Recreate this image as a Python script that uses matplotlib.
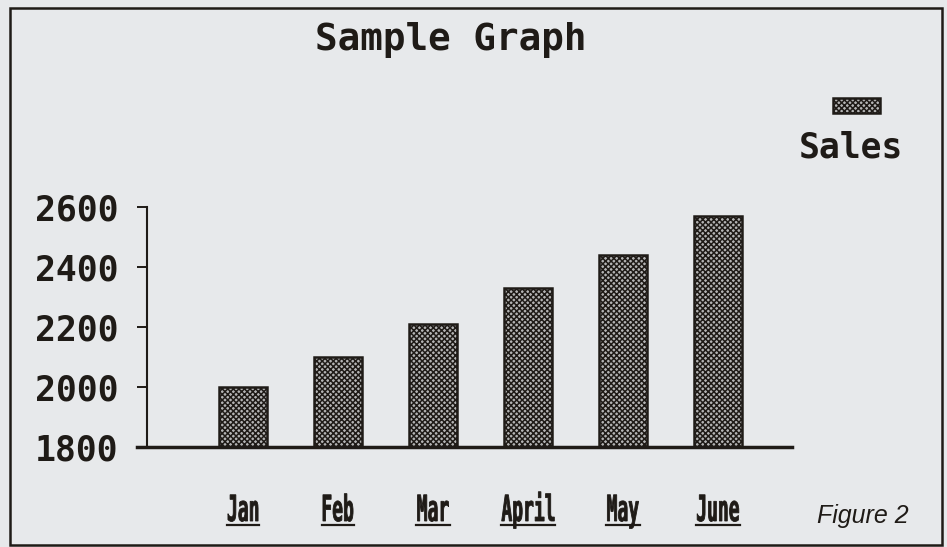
import matplotlib.pyplot as plt
from matplotlib.patches import Rectangle, PathPatch
from matplotlib.lines import Line2D
from matplotlib.textpath import TextPath
from matplotlib.font_manager import FontProperties
from matplotlib.transforms import IdentityTransform, Affine2D
import numpy as np

# values
months = ['Jan', 'Feb', 'Mar', 'April', 'May', 'June']
sales = [2000, 2100, 2210, 2330, 2440, 2570]
y_ticks = [1800, 2000, 2200, 2400, 2600]

ink = '#1f1b17'
paper = '#e7e9eb'
fill = '#b4b4b4'
mono = 'DejaVu Sans Mono'
W, H = 947, 547

plt.rcParams['hatch.linewidth'] = 1.1

fig = plt.figure(figsize=(W / 100, H / 100), dpi=100, facecolor=paper)
ax = fig.add_axes([137 / W, 1 - 447 / H, (792 - 137) / W, (447 - 207) / H])
ax.set_facecolor('none')

x = np.arange(len(months))
base = y_ticks[0]
ax.bar(x, np.array(sales) - base, bottom=base, width=0.51,
       facecolor=fill, edgecolor=ink, hatch='xxxxxx', linewidth=1.8)

ax.set_xlim(-1.116, 5.779)
ax.set_ylim(1800, 2600)
for s in ['top', 'right']:
    ax.spines[s].set_visible(False)
ax.spines['left'].set_position(('data', -1.01))
ax.spines['left'].set_linewidth(1.5)
ax.spines['left'].set_color(ink)
ax.spines['bottom'].set_linewidth(2.5)
ax.spines['bottom'].set_color(ink)

ax.set_yticks(y_ticks)
ax.set_yticklabels([str(v) for v in y_ticks], family=mono, fontweight='heavy',
                   fontsize=25, color=ink)
ax.tick_params(axis='y', direction='out', length=7.5, width=1.4, pad=13, colors=ink)
ax.set_xticks([])

# month labels: tall narrow lettering, underlined (drawn in pixel space)
fp = FontProperties(family=mono, weight='bold')
for xi, m in zip(x, months):
    tp = TextPath((0, 0), m, size=18, prop=fp)
    ext = tp.get_extents()
    cx = ax.transData.transform((xi, base))[0]
    tr = Affine2D().translate(-(ext.x0 + ext.x1) / 2, 0).scale(1.0, 2.0) \
        .translate(cx, H - 521)
    fig.add_artist(PathPatch(tr.transform_path(tp), transform=IdentityTransform(),
                             facecolor=ink, edgecolor=ink, linewidth=0.6))
    half = (ext.x1 - ext.x0) / 2 + 1
    fig.add_artist(Line2D([cx - half, cx + half], [H - 525, H - 525],
                          transform=IdentityTransform(), color=ink, linewidth=1.6))

# title, legend and caption
fig.text(451 / W, 1 - 50 / H, 'Sample Graph', ha='center', va='baseline',
         family=mono, fontweight='bold', fontsize=27, color=ink)
fig.add_artist(Rectangle((833 / W, 1 - 113 / H), 47 / W, 15 / H,
                         transform=fig.transFigure, facecolor=fill,
                         edgecolor=ink, hatch='xxxxxx', linewidth=1.8))
fig.text(851 / W, 1 - 157 / H, 'Sales', ha='center', va='baseline',
         family=mono, fontweight='bold', fontsize=25, color=ink)
fig.text(863 / W, 1 - 523 / H, 'Figure 2', ha='center', va='baseline',
         family='Liberation Sans', style='italic', fontsize=18, color=ink)

# frame around the figure
fig.add_artist(Rectangle((10 / W, 1 - 545 / H), 932 / W, 537 / H,
                         transform=fig.transFigure, fill=False,
                         edgecolor=ink, linewidth=1.8))

fig.savefig('out.png', dpi=100, facecolor=paper)
